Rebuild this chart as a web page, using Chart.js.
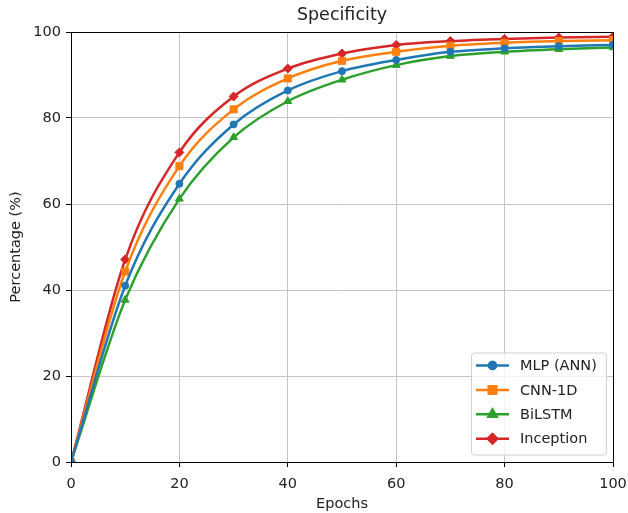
<!DOCTYPE html>
<html lang="en">
<head>
<meta charset="UTF-8">
<title>Specificity</title>
<style>
    body { margin: 0; background: #fff; }
    #wrap { width: 628px; height: 513px; }
</style>
</head>
<body>
<div id="wrap"><canvas id="specChart" width="628" height="513"></canvas></div>
<script src="https://cdn.jsdelivr.net/npm/chart.js"></script>
<script>
    // specificity per epoch, one array per model
    const epochs = [0, 10, 20, 30, 40, 50, 60, 70, 80, 90, 100];
    const mlpAnn = [0, 41.0, 64.7, 78.5, 86.4, 90.9, 93.5, 95.4, 96.2, 96.7, 97.0];
    const cnn1d = [0, 44.3, 68.8, 82.0, 89.2, 93.3, 95.4, 96.8, 97.5, 97.9, 98.1];
    const biLstm = [0, 37.7, 61.2, 75.5, 83.9, 88.9, 92.3, 94.4, 95.4, 96.0, 96.4];
    const inception = [0, 47.1, 72.0, 85.0, 91.5, 95.0, 97.0, 97.9, 98.4, 98.7, 98.9];
    const xTicks = [0, 20, 40, 60, 80, 100];
    const yTicks = [0, 20, 40, 60, 80, 100];

    const FONT = "'DejaVu Sans', sans-serif";

    function series(label, values, color, style, radius) {
        return {
            label: label,
            data: epochs.map((e, i) => ({ x: e, y: values[i] })),
            borderColor: color,
            backgroundColor: color,
            borderWidth: 2.5,
            pointStyle: style,
            pointRadius: radius,
            pointBorderWidth: 1,
            pointBorderColor: color,
            pointBackgroundColor: color,
            cubicInterpolationMode: 'monotone',
            fill: false
        };
    }

    // black box round the plot area
    const frame = {
        id: 'frame',
        afterDatasetsDraw(chart) {
            const a = chart.chartArea, ctx = chart.ctx;
            ctx.save();
            ctx.strokeStyle = '#000';
            ctx.lineWidth = 1;
            ctx.strokeRect(Math.round(a.left) + 0.5, Math.round(a.top) + 0.5,
                Math.round(a.right - a.left), Math.round(a.bottom - a.top));
            ctx.restore();
        }
    };

    // legend in the lower right corner, line with marker like pyplot
    const cornerLegend = {
        id: 'cornerLegend',
        afterDraw(chart) {
            const a = chart.chartArea, ctx = chart.ctx;
            const w = 135, h = 102;
            const left = a.right - 6.5 - w, top = a.bottom - 7 - h;
            ctx.save();
            ctx.beginPath();
            ctx.roundRect(left, top, w, h, 3);
            ctx.fillStyle = 'rgba(255,255,255,0.8)';
            ctx.fill();
            ctx.strokeStyle = '#d0d0d0';
            ctx.lineWidth = 1;
            ctx.stroke();
            chart.data.datasets.forEach((ds, i) => {
                const y = top + 12.5 + i * 24.4;
                ctx.beginPath();
                ctx.strokeStyle = ds.borderColor;
                ctx.lineWidth = 2.5;
                ctx.moveTo(left + 4.5, y);
                ctx.lineTo(left + 37.5, y);
                ctx.stroke();
                Chart.helpers.drawPoint(ctx, {
                    pointStyle: ds.pointStyle,
                    radius: ds.pointRadius,
                    borderWidth: 1,
                    rotation: 0
                }, left + 21, y);
                ctx.fillStyle = ds.borderColor;
                ctx.strokeStyle = ds.borderColor;
                ctx.fill();
                ctx.stroke();
                ctx.fillStyle = '#222';
                ctx.font = '14.5px ' + FONT;
                ctx.textBaseline = 'middle';
                ctx.textAlign = 'left';
                ctx.fillText(ds.label, left + 48.5, y + 1);
            });
            ctx.restore();
        }
    };

    new Chart(document.getElementById('specChart'), {
        type: 'line',
        data: {
            datasets: [
                series('MLP (ANN)', mlpAnn, '#1f77b4', 'circle', 3.5),
                series('CNN-1D', cnn1d, '#ff7f0e', 'rect', 5),
                series('BiLSTM', biLstm, '#2ca02c', 'triangle', 4.5),
                series('Inception', inception, '#d62728', 'rectRot', 4.5)
            ]
        },
        options: {
            responsive: false,
            devicePixelRatio: 1,
            animation: false,
            layout: { padding: { left: 0, right: 15, top: 0, bottom: 0 } },
            plugins: {
                legend: { display: false },
                tooltip: { enabled: false },
                title: {
                    display: true,
                    text: 'Specificity',
                    fullSize: false,
                    color: '#222',
                    font: { family: FONT, size: 17.5, weight: 'normal' },
                    padding: { top: 5, bottom: 6 }
                }
            },
            scales: {
                x: {
                    type: 'linear',
                    min: 0,
                    max: 100,
                    afterBuildTicks(scale) { scale.ticks = xTicks.map(v => ({ value: v })); },
                    afterFit(scale) {
                        scale.height = 51;
                        scale.paddingLeft = 0;
                        scale.paddingRight = 0;
                    },
                    ticks: {
                        color: '#222',
                        padding: 9,
                        maxRotation: 0,
                        font: { family: FONT, size: 14.5 }
                    },
                    grid: { color: '#c4c4c4', lineWidth: 1, tickLength: 5, tickColor: '#000' },
                    border: { color: '#000', width: 1 },
                    title: {
                        display: true,
                        text: 'Epochs',
                        color: '#222',
                        font: { family: FONT, size: 14.5 },
                        padding: { top: 0, bottom: 0 }
                    }
                },
                y: {
                    min: 0,
                    max: 100,
                    afterBuildTicks(scale) { scale.ticks = yTicks.map(v => ({ value: v })); },
                    afterFit(scale) {
                        scale.width = 71;
                        scale.paddingTop = 0;
                        scale.paddingBottom = 0;
                    },
                    ticks: {
                        color: '#222',
                        padding: 5,
                        font: { family: FONT, size: 14.5 }
                    },
                    grid: { color: '#c4c4c4', lineWidth: 1, tickLength: 5, tickColor: '#000' },
                    border: { color: '#000', width: 1 },
                    title: {
                        display: true,
                        text: 'Percentage (%)',
                        color: '#222',
                        font: { family: FONT, size: 14.5 },
                        padding: { top: 8, bottom: 0 }
                    }
                }
            }
        },
        plugins: [frame, cornerLegend]
    });
</script>
</body>
</html>
